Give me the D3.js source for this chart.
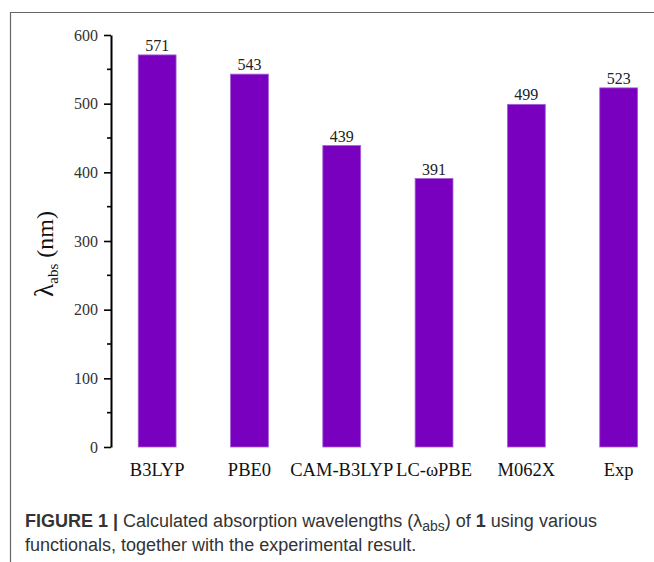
<!DOCTYPE html>
<html>
<head>
<meta charset="utf-8">
<script src="https://cdnjs.cloudflare.com/ajax/libs/d3/7.8.5/d3.min.js"></script>
<style>
  body { margin: 0; background: #fff; }
  svg text { font-family: "Liberation Serif", "Times New Roman", serif; }
  .caption { font-family: "Liberation Sans", Arial, sans-serif !important; font-size: 18px; fill: #333; }
</style>
</head>
<body>
<svg id="chart" width="654" height="562"></svg>
<script>
// data
let functionals = ["B3LYP", "PBE0", "CAM-B3LYP", "LC-\u03C9PBE", "M062X", "Exp"];
let wavelengths = [571, 543, 439, 391, 499, 523];
let yTicks = [0, 100, 200, 300, 400, 500, 600];
let yMinor = [50, 150, 250, 350, 450, 550];

let BAR_COLOR = "#7a00bf";

var svg = d3.select('#chart');

// frame (top + left edge of the figure box)
svg.append('path')
  .attr('d', 'M10.5,562 V12.5 H654')
  .attr('fill', 'none')
  .attr('stroke', '#666')
  .attr('stroke-width', 1.2);

var y = d3.scaleLinear().domain([0, 600]).range([447, 35]);
var x = d3.scaleBand()
  .domain(functionals)
  .range([111, 111 + 6 * 92.3])
  .paddingInner(0.59)
  .paddingOuter(0.295);

// bars
svg.append('g').selectAll('rect')
  .data(functionals)
  .enter()
  .append('rect')
  .attr('x', (d) => x(d))
  .attr('width', x.bandwidth())
  .attr('y', (d, i) => y(wavelengths[i]))
  .attr('height', (d, i) => y(0) - y(wavelengths[i]))
  .attr('fill', BAR_COLOR)
  .attr('stroke', '#a260d6')
  .attr('stroke-width', 0.8);

// value labels on top
svg.append('g').selectAll('text')
  .data(functionals)
  .enter()
  .append('text')
  .attr('x', (d) => x(d) + x.bandwidth() / 2)
  .attr('y', (d, i) => y(wavelengths[i]) - 4)
  .attr('text-anchor', 'middle')
  .style('font-size', '16px')
  .style('fill', '#222')
  .text((d, i) => wavelengths[i]);

// category labels (no x axis line in the original)
svg.append('g').selectAll('text')
  .data(functionals)
  .enter()
  .append('text')
  .attr('x', (d) => x(d) + x.bandwidth() / 2)
  .attr('y', 476)
  .attr('text-anchor', 'middle')
  .style('font-size', '18.5px')
  .style('fill', '#111')
  .text((d) => d);

// y axis with major + minor ticks
var yAxis = svg.append('g')
  .attr('transform', 'translate(111,0)')
  .call(d3.axisLeft(y).tickValues(yTicks).tickSize(7).tickSizeOuter(0).tickPadding(6))
  .attr('font-family', '"Liberation Serif", serif')
  .attr('font-size', 16);
yAxis.select('.domain').attr('stroke', '#000').attr('stroke-width', 2);
yAxis.selectAll('.tick line').attr('stroke', '#000').attr('stroke-width', 1.6);
yAxis.selectAll('.tick text')
  .style('font-family', '"Liberation Serif", serif')
  .style('font-size', '16px')
  .style('fill', '#333');

svg.append('g')
  .attr('transform', 'translate(111,0)')
  .selectAll('line')
  .data(yMinor)
  .enter()
  .append('line')
  .attr('x1', -4)
  .attr('x2', 0)
  .attr('y1', (d) => y(d))
  .attr('y2', (d) => y(d))
  .attr('stroke', '#000')
  .attr('stroke-width', 1.6);

// y label, rotated
var yl = svg.append('text')
  .attr('transform', 'translate(53,' + 254 + ')rotate(-90)')
  .attr('text-anchor', 'middle')
  .style('fill', '#111');
yl.append('tspan').style('font-size', '27px').text('\u03BB');
yl.append('tspan').style('font-size', '15px').attr('dy', 5).text('abs');
yl.append('tspan').style('font-size', '24px').attr('dy', -5).text(' (nm)');

// caption
var c1 = svg.append('text').attr('class', 'caption').attr('x', 25).attr('y', 527);
c1.append('tspan').style('font-weight', 'bold').text('FIGURE 1 |');
c1.append('tspan').text(' Calculated absorption wavelengths (\u03BB');
c1.append('tspan').attr('dy', 4).style('font-size', '14px').text('abs');
c1.append('tspan').attr('dy', -4).text(') of ');
c1.append('tspan').style('font-weight', 'bold').text('1');
c1.append('tspan').text(' using various');

svg.append('text').attr('class', 'caption').attr('x', 25).attr('y', 551)
  .text('functionals, together with the experimental result.');
</script>
</body>
</html>
